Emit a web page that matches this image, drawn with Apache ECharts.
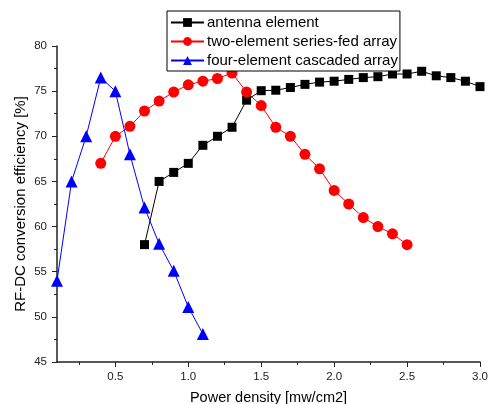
<!DOCTYPE html>
<html>
<head>
<meta charset="utf-8">
<script src="https://cdn.jsdelivr.net/npm/echarts@6/dist/echarts.min.js"></script>
<style>html,body{margin:0;padding:0;background:#fff}#c{width:490px;height:404px}</style>
</head>
<body>
<div id="c"></div>
<script>
// Data
var antennaX = [0.7,0.8,0.9,1.0,1.1,1.2,1.3,1.4,1.5,1.6,1.7,1.8,1.9,2.0,2.1,2.2,2.3,2.4,2.5,2.6,2.7,2.8,2.9,3.0];
var antennaY = [58,65,66,67,69,70,71,74,75.05,75.1,75.4,75.75,76,76.1,76.3,76.5,76.6,76.9,76.9,77.2,76.7,76.5,76.1,75.5];
var twoX = [0.4,0.5,0.6,0.7,0.8,0.9,1.0,1.1,1.2,1.3,1.4,1.5,1.6,1.7,1.8,1.9,2.0,2.1,2.2,2.3,2.4,2.5];
var twoY = [67,70,71.1,72.8,73.9,74.9,75.7,76.1,76.4,77,74.9,73.4,71,70,68,66.4,64,62.5,61,60,59.2,58];
var fourX = [0.1,0.2,0.3,0.4,0.5,0.6,0.7,0.8,0.9,1.0,1.1];
var fourY = [54,65,70,76.5,75,68,62.1,58.1,55.1,51.1,48.1];
var xMajorTicks = [0.5,1.0,1.5,2.0,2.5,3.0];
var xMinorTicks = [0.25,0.75,1.25,1.75,2.25,2.75];
var seriesNames = ['antenna element','two-element series-fed array','four-element cascaded array'];

function pairs(xs, ys){ return xs.map(function(x,i){return [x, ys[i]];}); }

var chart = echarts.init(document.getElementById('c'), null, {renderer:'canvas'});
var font = 'Arial, "Liberation Sans", sans-serif';
chart.setOption({
  animation:false,
  backgroundColor:'#fff',
  grid:{left:57, right:10, top:46, bottom:42, containLabel:false, outerBoundsMode:'none'},
  legend:{
    orient:'vertical', left:167, top:11,
    padding:[4,2,3,3],
    itemGap:4,
    itemWidth:33, itemHeight:11,
    borderColor:'#000', borderWidth:1,
    backgroundColor:'#fff',
    textStyle:{fontFamily:font, fontSize:15, color:'#000', padding:[0,0,0,-2]},
    data:seriesNames
  },
  xAxis:[{
    type:'value', min:0.1, max:3.0,
    name:'Power density [mw/cm2]', nameLocation:'middle', nameGap:28, nameMoveOverlap:false,
    nameTextStyle:{fontFamily:font, fontSize:14.5, color:'#000'},
    axisLine:{show:true, lineStyle:{color:'#222', width:1.5}},
    axisTick:{show:true, length:5, customValues:xMajorTicks, lineStyle:{color:'#222', width:1}},
    axisLabel:{customValues:xMajorTicks, fontFamily:font, fontSize:11.5, color:'#222', margin:9,
      formatter:function(v){return v.toFixed(1);}},
    splitLine:{show:false}
  },{
    type:'value', min:0.1, max:3.0, position:'bottom', offset:0,
    axisLine:{show:false},
    axisTick:{show:true, length:3, customValues:xMinorTicks, lineStyle:{color:'#222', width:1}},
    axisLabel:{show:false},
    splitLine:{show:false}
  }],
  yAxis:{
    type:'value', min:45, max:80, interval:5,
    name:'RF-DC conversion efficiency [%]', nameLocation:'middle', nameGap:29, nameMoveOverlap:false,
    nameTextStyle:{fontFamily:font, fontSize:15, color:'#000'},
    axisLine:{show:true, lineStyle:{color:'#222', width:1.5}},
    axisTick:{show:true, length:5, lineStyle:{color:'#222', width:1}},
    minorTick:{show:true, splitNumber:2, length:3, lineStyle:{color:'#222', width:1}},
    axisLabel:{fontFamily:font, fontSize:11.5, color:'#222', margin:10},
    splitLine:{show:false}
  },
  series:[
    {name:seriesNames[0], type:'line', data:pairs(antennaX, antennaY), symbol:'rect', symbolSize:9,
      itemStyle:{color:'#000'}, lineStyle:{color:'#000', width:1}},
    {name:seriesNames[1], type:'line', data:pairs(twoX, twoY), symbol:'circle', symbolSize:11,
      itemStyle:{color:'#ff0000'}, lineStyle:{color:'#ff0000', width:1}},
    {name:seriesNames[2], type:'line', data:pairs(fourX, fourY), symbol:'triangle', symbolSize:12,
      itemStyle:{color:'#0000ff'}, lineStyle:{color:'#0000ff', width:1}}
  ]
});
</script>
</body>
</html>
